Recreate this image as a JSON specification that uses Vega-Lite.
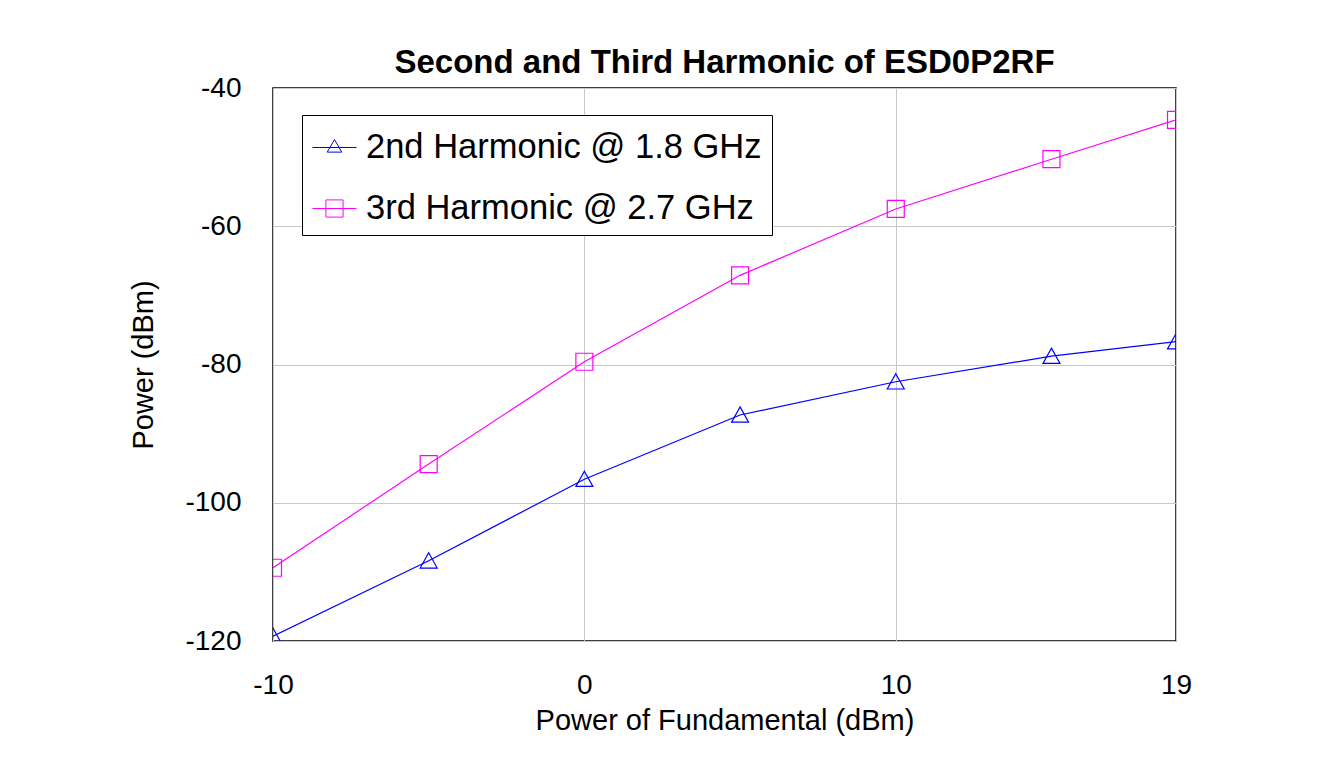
{
  "$schema": "https://vega.github.io/schema/vega-lite/v6.json",
  "width": 903,
  "height": 553,
  "autosize": "none",
  "padding": {"left": 273, "top": 88, "right": 154, "bottom": 126},
  "background": "white",
  "title": {
    "text": "Second and Third Harmonic of ESD0P2RF",
    "font": "Liberation Sans",
    "fontSize": 33,
    "fontWeight": "bold",
    "color": "black",
    "anchor": "middle",
    "baseline": "alphabetic",
    "offset": -32
  },
  "data": {
    "values": [
      {"p": -10, "v": -119.3, "s": "2nd Harmonic @ 1.8 GHz"},
      {"p": -5, "v": -108.4, "s": "2nd Harmonic @ 1.8 GHz"},
      {"p": 0, "v": -96.6, "s": "2nd Harmonic @ 1.8 GHz"},
      {"p": 5, "v": -87.3, "s": "2nd Harmonic @ 1.8 GHz"},
      {"p": 10, "v": -82.5, "s": "2nd Harmonic @ 1.8 GHz"},
      {"p": 15, "v": -78.8, "s": "2nd Harmonic @ 1.8 GHz"},
      {"p": 19, "v": -76.7, "s": "2nd Harmonic @ 1.8 GHz"},
      {"p": -10, "v": -109.4, "s": "3rd Harmonic @ 2.7 GHz"},
      {"p": -5, "v": -94.4, "s": "3rd Harmonic @ 2.7 GHz"},
      {"p": 0, "v": -79.6, "s": "3rd Harmonic @ 2.7 GHz"},
      {"p": 5, "v": -67.1, "s": "3rd Harmonic @ 2.7 GHz"},
      {"p": 10, "v": -57.5, "s": "3rd Harmonic @ 2.7 GHz"},
      {"p": 15, "v": -50.3, "s": "3rd Harmonic @ 2.7 GHz"},
      {"p": 19, "v": -44.6, "s": "3rd Harmonic @ 2.7 GHz"}
    ]
  },
  "encoding": {
    "x": {
      "field": "p",
      "type": "quantitative",
      "scale": {"domain": [-10, 19], "nice": false, "zero": false},
      "axis": {
        "title": "Power of Fundamental (dBm)",
        "values": [-10, 0, 10, 19],
        "labelExpr": "replace(datum.label, '−', '-')",
        "grid": true,
        "gridColor": "#c8c8c8",
        "gridWidth": 1,
        "domain": false,
        "ticks": false,
        "tickSize": 0,
        "labelFont": "Liberation Sans",
        "labelFontSize": 28,
        "labelColor": "black",
        "labelPadding": 30,
        "labelFlush": false,
        "titleFont": "Liberation Sans",
        "titleFontSize": 29,
        "titleFontWeight": "normal",
        "titleColor": "black",
        "titlePadding": 7
      }
    },
    "y": {
      "field": "v",
      "type": "quantitative",
      "scale": {"domain": [-120, -40], "nice": false, "zero": false},
      "axis": {
        "title": "Power (dBm)",
        "values": [-120, -100, -80, -60, -40],
        "labelExpr": "replace(datum.label, '−', '-')",
        "grid": true,
        "gridColor": "#c8c8c8",
        "gridWidth": 1,
        "domain": false,
        "ticks": false,
        "tickSize": 0,
        "labelFont": "Liberation Sans",
        "labelFontSize": 28,
        "labelColor": "black",
        "labelPadding": 32,
        "labelFlush": false,
        "titleFont": "Liberation Sans",
        "titleFontSize": 29,
        "titleFontWeight": "normal",
        "titleColor": "black",
        "titlePadding": 26
      }
    },
    "color": {
      "field": "s",
      "type": "nominal",
      "scale": {"domain": ["2nd Harmonic @ 1.8 GHz", "3rd Harmonic @ 2.7 GHz"], "range": ["#0000ff", "#ff00ff"]},
      "legend": {
        "title": null,
        "orient": "none",
        "legendX": 29,
        "legendY": 27,
        "fillColor": "white",
        "strokeColor": "black",
        "padding": 10,
        "rowPadding": 22,
        "labelFont": "Liberation Sans",
        "labelFontSize": 34.5,
        "labelColor": "black",
        "labelOffset": 9,
        "labelLimit": 600,
        "symbolSize": 1936,
        "symbolStrokeWidth": 1,
        "symbolOpacity": 1
      }
    }
  },
  "layer": [
    {
      "mark": {"type": "line", "strokeWidth": 1.2, "clip": true}
    },
    {
      "transform": [{"filter": "datum.s === '2nd Harmonic @ 1.8 GHz'"}],
      "mark": {"type": "point", "filled": false, "size": 289, "strokeWidth": 1.2, "opacity": 1, "clip": true, "shape": "M0,-0.95L1,0.85L-1,0.85Z"}
    },
    {
      "transform": [{"filter": "datum.s === '3rd Harmonic @ 2.7 GHz'"}],
      "mark": {"type": "point", "filled": false, "size": 289, "strokeWidth": 1.2, "opacity": 1, "clip": true, "shape": "M-1,-1H1V1H-1Z"}
    },
    {
      "mark": {"type": "point", "filled": false, "size": 1936, "opacity": 0, "clip": true},
      "encoding": {
        "shape": {
          "field": "s",
          "type": "nominal",
          "scale": {"domain": ["2nd Harmonic @ 1.8 GHz", "3rd Harmonic @ 2.7 GHz"], "range": ["M-1,0H1M0,-0.36L0.33,0.21L-0.33,0.21Z", "M-1,0H1M-0.39,-0.39H0.39V0.39H-0.39Z"]},
          "legend": {
            "title": null,
            "orient": "none",
            "legendX": 29,
            "legendY": 27,
            "fillColor": "white",
            "strokeColor": "black",
            "padding": 10,
            "rowPadding": 22,
            "labelFont": "Liberation Sans",
            "labelFontSize": 34.5,
            "labelColor": "black",
            "labelOffset": 9,
            "labelLimit": 600,
            "symbolSize": 1936,
            "symbolStrokeWidth": 1,
            "symbolOpacity": 1
          }
        }
      }
    }
  ],
  "config": {
    "view": {"stroke": "black", "strokeWidth": 1.5},
    "font": "Liberation Sans"
  }
}
